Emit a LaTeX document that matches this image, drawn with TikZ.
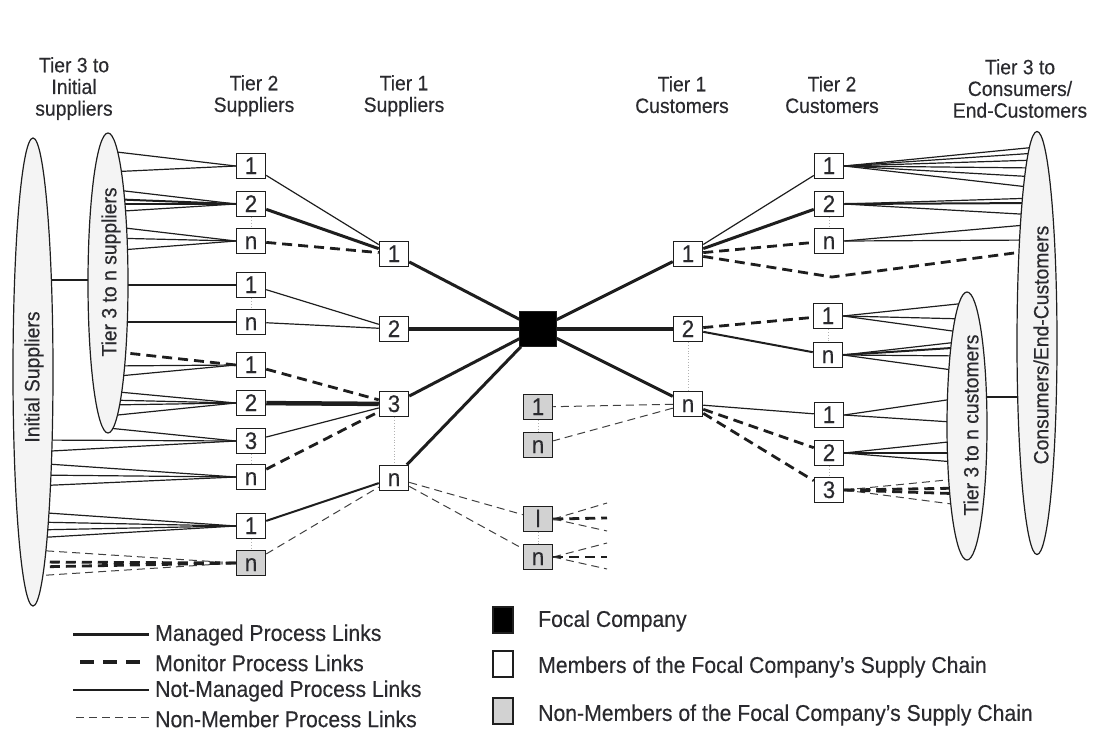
\documentclass[tikz,border=0pt]{standalone}
\usepackage{fontspec}
\setmainfont{Liberation Sans}[FakeStretch=0.93, FakeBold=0.3]
\usetikzlibrary{shapes.geometric}
\pgfdeclarelayer{links}
\pgfsetlayers{links,main}
\definecolor{ink}{HTML}{1E1E1E}
\definecolor{txt}{HTML}{2A2A2E}
\definecolor{boxgray}{HTML}{D2D2D2}
\definecolor{ovalgray}{HTML}{F4F4F4}
\newcommand\hdrfont{\fontsize{20.8pt}{21.7pt}\selectfont}
\newcommand\boxfont{\fontsize{24pt}{24pt}\selectfont}
\newcommand\legfont{\fontsize{22.8pt}{24pt}\selectfont}
\tikzset{
  box/.style={draw=ink, line width=1.5pt, fill=white, minimum width=29pt,
    minimum height=25pt, inner sep=0pt, text height=17pt, text depth=1pt,
    font=\boxfont, text=txt},
  nonbox/.style={box, fill=boxgray},
  oval/.style={ellipse, draw=ink, line width=1.2pt, fill=ovalgray, inner sep=0pt},
  ovaltext/.style={rotate=90, font=\hdrfont, text=txt, inner sep=0pt},
  hdr/.style={font=\hdrfont, text=txt, align=center, anchor=north, inner sep=0pt},
  leg/.style={font=\legfont, text=txt, anchor=west, inner sep=0pt},
  thinlink/.style={line width=1.2pt, draw=ink},
  midlink/.style={line width=2pt, draw=ink},
  managed/.style={line width=3pt, draw=ink},
  heavy/.style={line width=4.5pt, draw=ink},
  monitor/.style={line width=2.8pt, draw=ink, dash pattern=on 10pt off 6pt},
  nonmember/.style={line width=1pt, draw=ink!85, dash pattern=on 8pt off 5pt},
  gap/.style={draw=gray!60, line width=0.8pt, dotted},
}
\begin{document}
\begin{tikzpicture}[x=1pt, y=-1pt]
\useasboundingbox (0,0) rectangle (1097,731);

% ---- headers
\node[hdr] at (74,57)   {Tier 3 to\\Initial\\suppliers};
\node[hdr] at (254,75)  {Tier 2\\Suppliers};
\node[hdr] at (404,75)  {Tier 1\\Suppliers};
\node[hdr] at (682,76)  {Tier 1\\Customers};
\node[hdr] at (832,76)  {Tier 2\\Customers};
\node[hdr] at (1020,59) {Tier 3 to\\Consumers/\\End-Customers};

% ---- supplier-side ovals
\node[oval, minimum width=40pt, minimum height=468pt] (IS) at (33,372) {};
\node[oval, minimum width=40pt, minimum height=300pt] (IT) at (108,283) {};
\node[ovaltext] at (34,377)  {Initial Suppliers};
\node[ovaltext] at (111,272) {Tier 3 to n suppliers};

% ---- customer-side ovals
\node[oval, minimum width=40pt, minimum height=423pt] (OE) at (1037,343) {};
\node[oval, minimum width=40pt, minimum height=268pt] (IE) at (967,426) {};
\node[ovaltext] at (1041,345) {Consumers/End-Customers};
\node[ovaltext] at (971,425)  {Tier 3 to n customers};

% ---- tier 2 suppliers
\node[box] (a1) at (251,166) {1};
\node[box] (a2) at (251,204) {2};
\node[box] (an) at (251,241) {n};
\node[box] (b1) at (251,285) {1};
\node[box] (bn) at (251,322) {n};
\node[box] (c1) at (251,365) {1};
\node[box] (c2) at (251,403) {2};
\node[box] (c3) at (251,441) {3};
\node[box] (cn) at (251,477) {n};
\node[box] (d1) at (251,526) {1};
\node[nonbox] (dn) at (251,563) {n};

% ---- tier 1 suppliers
\node[box] (s1) at (394,254) {1};
\node[box] (s2) at (394,329) {2};
\node[box] (s3) at (394,404) {3};
\node[box] (sn) at (394,478) {n};

% ---- focal company
\node[draw=ink, fill=black, minimum width=37pt, minimum height=35pt, inner sep=0pt] (F) at (538,329) {};

% ---- non-members around the focal company
\node[nonbox] (g1) at (538,407) {1};
\node[nonbox] (gn) at (538,445) {n};
\node[nonbox] (h1) at (538,519) {l};
\node[nonbox] (hn) at (538,557) {n};

% ---- tier 1 customers
\node[box] (k1) at (688,254) {1};
\node[box] (k2) at (688,329) {2};
\node[box] (kn) at (688,404) {n};

% ---- tier 2 customers
\node[box] (p1) at (829,166) {1};
\node[box] (p2) at (829,204) {2};
\node[box] (pn) at (829,241) {n};
\node[box] (q1) at (828,316) {1};
\node[box] (qn) at (828,355) {n};
\node[box] (r1) at (829,415) {1};
\node[box] (r2) at (829,453) {2};
\node[box] (r3) at (829,490) {3};

% ---- free ends and bends
\coordinate (kv) at (832,277);
\coordinate (h1u) at (607,503);
\coordinate (h1m) at (607,518);
\coordinate (h1d) at (607,531);
\coordinate (hnu) at (607,543);
\coordinate (hnm) at (607,557);
\coordinate (hnd) at (607,569);

\begin{pgfonlayer}{links}
  % oval to oval
  \draw[thinlink] (IS.center |- 0,280) -- (IT.center |- 0,280);
  \draw[thinlink] (IE.center |- 0,397) -- (OE.center |- 0,397);

  % tier 3..n suppliers to tier 2
  \foreach \v in {151,172} \draw[thinlink] (a1.west) -- (IT.center |- 0,\v);
  \foreach \v in {189,204,212} \draw[thinlink] (a2.west) -- (IT.center |- 0,\v);
  \draw[midlink] (a2.west) -- (IT.center |- 0,199);
  \foreach \v in {226,238,251} \draw[thinlink] (an.west) -- (IT.center |- 0,\v);
  \draw[thinlink] (b1.west) -- (IT.center |- 0,285);
  \draw[thinlink] (bn.west) -- (IT.center |- 0,322);
  \draw[monitor] (c1.west) -- (IT.center |- 0,351);
  \foreach \v in {366,377} \draw[thinlink] (c1.west) -- (IT.center |- 0,\v);
  \foreach \v in {391,400,405,416} \draw[thinlink] (c2.west) -- (IT.center |- 0,\v);
  \draw[thinlink] (c3.west) -- (IT.center |- 0,428);
  \foreach \v in {440,452} \draw[thinlink] (c3.west) -- (IS.center |- 0,\v);
  \foreach \v in {463,475,486} \draw[thinlink] (cn.west) -- (IS.center |- 0,\v);
  \foreach \v in {512,522,530,538} \draw[thinlink] (d1.west) -- (IS.center |- 0,\v);
  \foreach \v in {550,576} \draw[nonmember] (dn.west) -- (IS.center |- 0,\v);
  \foreach \v in {562,567} \draw[monitor] (dn.west) -- (IS.center |- 0,\v);

  % tier 2 customers to tier 3..n / end customers
  \foreach \v in {147,153,160,168,177,188} \draw[thinlink] (p1.east) -- (OE.center |- 0,\v);
  \foreach \v in {198,215} \draw[thinlink] (p2.east) -- (OE.center |- 0,\v);
  \draw[midlink] (p2.east) -- (OE.center |- 0,203);
  \foreach \v in {224,240} \draw[thinlink] (pn.east) -- (OE.center |- 0,\v);
  \draw[monitor] (k1) -- (kv) -- (OE.center |- 0,250);
  \foreach \v in {303,319,333} \draw[thinlink] (q1.east) -- (IE.center |- 0,\v);
  \foreach \v in {341,356,372} \draw[thinlink] (qn.east) -- (IE.center |- 0,\v);
  \draw[midlink] (qn.east) -- (IE.center |- 0,347);
  \foreach \v in {397,423} \draw[thinlink] (r1.east) -- (IE.center |- 0,\v);
  \foreach \v in {440,453,463} \draw[thinlink] (r2.east) -- (IE.center |- 0,\v);
  \foreach \v in {478,506} \draw[nonmember] (r3.east) -- (IE.center |- 0,\v);
  \foreach \v in {488,494} \draw[monitor] (r3.east) -- (IE.center |- 0,\v);
\end{pgfonlayer}

% ---- tier 2 suppliers to tier 1 suppliers
\draw[thinlink] (a1) -- (s1);
\draw[managed] (a2) -- (s1);
\draw[monitor] (an) -- (s1);
\draw[thinlink] (b1) -- (s2);
\draw[thinlink] (bn) -- (s2);
\draw[monitor] (c1) -- (s3);
\draw[heavy] (c2) -- (s3);
\draw[thinlink] (c3) -- (s3);
\draw[monitor] (cn) -- (s3);
\draw[midlink] (d1) -- (sn);
\draw[nonmember] (dn) -- (sn);

% ---- focal company links
\draw[managed] (s1) -- (F);
\draw[heavy] (s2) -- (F);
\draw[managed] (s3) -- (F);
\draw[managed] (sn) -- (F);
\draw[managed] (F) -- (k1);
\draw[heavy] (F) -- (k2);
\draw[managed] (F) -- (kn);

% ---- tier 1 customers to tier 2 customers
\draw[thinlink] (k1) -- (p1);
\draw[managed] (k1) -- (p2);
\draw[monitor] (k1) -- (pn);
\draw[monitor] (k2) -- (q1);
\draw[midlink] (k2) -- (qn);
\draw[thinlink] (kn) -- (r1);
\draw[monitor] (kn) -- (r2);
\draw[monitor] (kn) -- (r3);

% ---- non-member links
\draw[nonmember] (kn) -- (g1);
\draw[nonmember] (kn) -- (gn);
\draw[nonmember] (sn) -- (h1);
\draw[nonmember] (sn) -- (hn);
\draw[nonmember] (h1.east) -- (h1u);
\draw[monitor] (h1.east) -- (h1m);
\draw[nonmember] (h1.east) -- (h1d);
\draw[nonmember] (hn.east) -- (hnu);
\draw[monitor] (hn.east) -- (hnm);
\draw[nonmember] (hn.east) -- (hnd);

% ---- omitted members within a column
\foreach \u/\w in {a2/an, b1/bn, c3/cn, d1/dn, s3/sn, g1/gn, h1/hn, k2/kn, p2/pn, q1/qn, r2/r3}
  \draw[gap] (\u.south) -- (\w.north);

% ---- legend: link types
\draw[managed] (73,634) -- (149,634);
\draw[monitor, line width=4pt, dash pattern=on 14pt off 9pt] (80,662) -- (149,662);
\draw[midlink] (73,690) -- (149,690);
\draw[nonmember] (76,717) -- (149,717);
\node[leg] at (155,635) {Managed Process Links};
\node[leg] at (155,663) {Monitor Process Links};
\node[leg] at (155,691) {Not-Managed Process Links};
\node[leg] at (155,719) {Non-Member Process Links};

% ---- legend: company types
\draw[ink, line width=1.2pt, fill=black] (493,607) rectangle (513,633);
\draw[ink, line width=1.4pt, fill=white] (493,651) rectangle (513,677);
\draw[ink, line width=1.4pt, fill=boxgray] (493,698) rectangle (513,724);
\node[leg] at (538,621) {Focal Company};
\node[leg] at (538,667) {Members of the Focal Company’s Supply Chain};
\node[leg] at (538,715) {Non-Members of the Focal Company’s Supply Chain};
\end{tikzpicture}
\end{document}
